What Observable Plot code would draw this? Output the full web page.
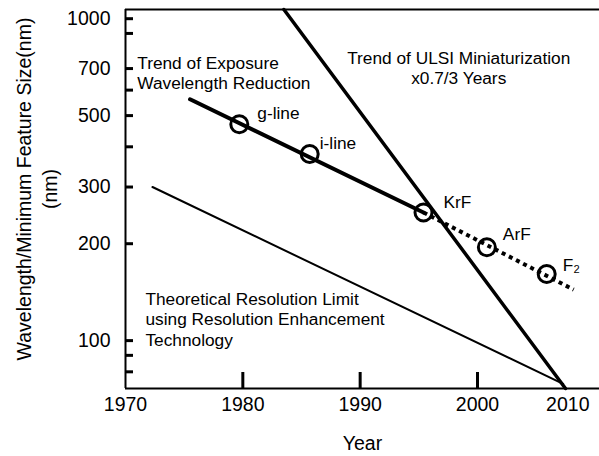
<!DOCTYPE html>
<html><head><meta charset="utf-8">
<script src="https://cdn.jsdelivr.net/npm/d3@7"></script>
<script src="https://cdn.jsdelivr.net/npm/@observablehq/plot@0.6"></script>
<style>
body{margin:0;background:#fff}
svg{font-family:"Liberation Sans",Arial,Helvetica,sans-serif}
</style>
</head><body><div id="chart"></div>
<script>
// ---- data ----
const xDomain = [1970, 2010.4];
const yDomain = [71, 1068];
const yTicks = [1000, 900, 700, 600, 500, 400, 300, 200, 100, 90, 80];
const yTickLabels = [1000, 700, 500, 300, 200, 100];
const xTicks = [1980, 1990, 2000];
const xTickLabels = [1970, 1980, 1990, 2000];
const xLastLabel = [2010];

const sourceNames = ["g-line", "i-line", "KrF", "ArF", "F\u2082"];
const sourceYears = [1979.7, 1985.7, 1995.4, 2000.8, 2005.9];
const sourceNm = [470, 380, 250, 195, 161];

const exposureYears = [1975.5, 1995.4];
const exposureNm = [562, 250];
const futureYears = [1995.4, 2008.2];
const futureNm = [250, 144];
const ulsiYears = [1983.5, 2007.5];
const ulsiNm = [1068, 71];
const theoryYears = [1972.3, 2007.3];
const theoryNm = [300, 73.4];

const noteTexts = [
  "Trend of Exposure\nWavelength Reduction",
  "Trend of ULSI Miniaturization\nx0.7/3 Years",
  "Theoretical Resolution Limit\nusing Resolution Enhancement\nTechnology"
];
const noteYears = [1971.0, 1998.4, 1971.7];
const noteNm = [681, 706, 117];

const yTitle = "Wavelength/Minimum Feature Size(nm)\n(nm)";
const xTitle = "Year";

// ---- tables ----
const pts = (ys, vs) => ys.map((year, i) => ({year, nm: vs[i]}));
const sources = sourceNames.map((name, i) => ({name, year: sourceYears[i], nm: sourceNm[i]}));
const notes = noteTexts.map((text, i) => ({text, year: noteYears[i], nm: noteNm[i]}));

const labelStyle = {x: "year", y: "nm", text: "name", textAnchor: "start", fontSize: 17.3, fill: "black"};
const srcLabel = (i, dx, dy) => Plot.text([sources[i]], {...labelStyle, dx, dy});
const noteStyle = {x: "year", y: "nm", text: "text", fontSize: 17.3, lineHeight: 1.2, lineAnchor: "middle", fill: "black"};
const note = (i, textAnchor) => Plot.text([notes[i]], {...noteStyle, textAnchor});

const chart = Plot.plot({
  width: 599, height: 456,
  marginLeft: 125, marginRight: 0, marginTop: 9, marginBottom: 68,
  style: {fontFamily: '"Liberation Sans", Arial, Helvetica, sans-serif', background: "white", color: "black"},
  x: {type: "linear", domain: xDomain},
  y: {type: "log", domain: yDomain},
  marks: [
    Plot.ruleY([yDomain[1]], {stroke: "black", strokeWidth: 2}),
    Plot.ruleY([yDomain[0]], {stroke: "black", strokeWidth: 2}),
    Plot.ruleX([xDomain[0]], {stroke: "black", strokeWidth: 2}),
    Plot.axisY({ticks: yTicks, tickSize: 8, dx: 8, text: null, strokeWidth: 3, label: null}),
    Plot.axisY({ticks: yTickLabels, tickSize: 0, tickPadding: 15, fontSize: 19.5, tickFormat: d => String(d), label: null}),
    Plot.axisX({ticks: xTicks, tickSize: 16, dy: -16, text: null, strokeWidth: 3, label: null}),
    Plot.axisX({ticks: xTickLabels, tickSize: 0, tickPadding: 9, fontSize: 19.5, tickFormat: d => String(d), label: null}),
    Plot.axisX({ticks: xLastLabel, tickSize: 0, tickPadding: 9, fontSize: 19.5, tickFormat: d => String(d), dx: -27, label: null}),
    Plot.line(pts(theoryYears, theoryNm), {x: "year", y: "nm", stroke: "black", strokeWidth: 2}),
    Plot.line(pts(ulsiYears, ulsiNm), {x: "year", y: "nm", stroke: "black", strokeWidth: 3.5}),
    Plot.line(pts(exposureYears, exposureNm), {x: "year", y: "nm", stroke: "black", strokeWidth: 4}),
    Plot.line(pts(futureYears, futureNm), {x: "year", y: "nm", stroke: "black", strokeWidth: 4, strokeDasharray: "4,4", strokeLinecap: "butt"}),
    Plot.dot(sources, {x: "year", y: "nm", r: 8.5, stroke: "black", strokeWidth: 3, fill: "none"}),
    srcLabel(0, 18, -11),
    srcLabel(1, 10, -11),
    srcLabel(2, 20, -10),
    srcLabel(3, 16, -13),
    srcLabel(4, 16, -9),
    note(0, "start"),
    note(1, "middle"),
    note(2, "start"),
    Plot.text([xTitle], {frameAnchor: "bottom", dy: 55, textAnchor: "middle", lineAnchor: "middle", fontSize: 19.5, fill: "black"}),
    Plot.text([yTitle], {frameAnchor: "left", rotate: -90, dx: -90, dy: -10, textAnchor: "middle", lineAnchor: "middle", fontSize: 19.5, lineHeight: 1.33, fill: "black"})
  ]
});
document.getElementById("chart").appendChild(chart);
</script>
</body></html>
